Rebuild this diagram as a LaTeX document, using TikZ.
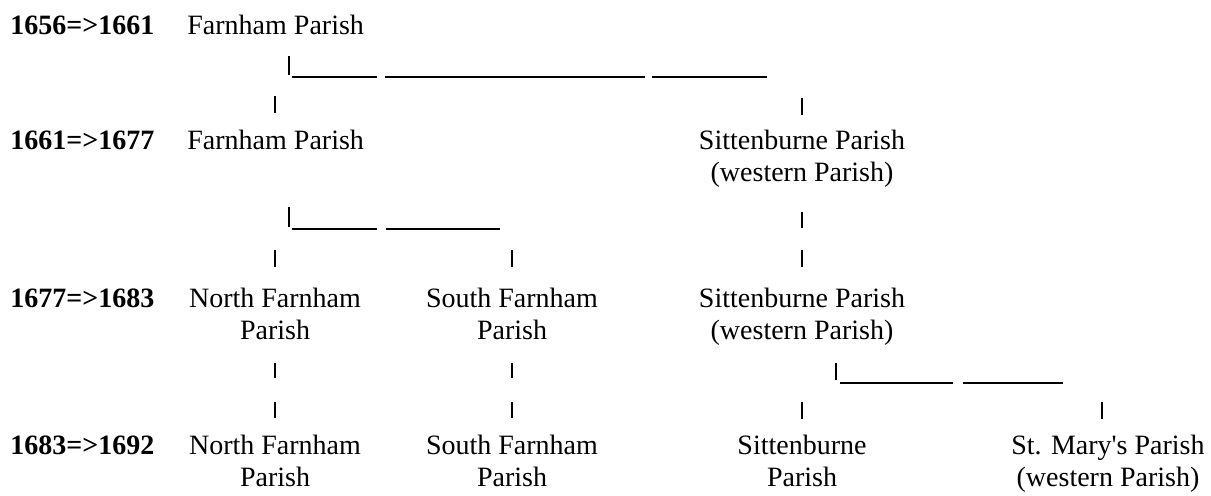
\documentclass[tikz,border=0pt]{standalone}
\usepackage{fontspec}
\setmainfont{Liberation Serif}
\tikzset{
  period/.style={anchor=base west,inner sep=0pt,font=\fontsize{14}{16}\selectfont\bfseries},
  place/.style={anchor=base west,inner sep=0pt},
  parish/.style={anchor=base,inner sep=0pt,align=center,yshift=-16pt},
  pipe/.style={line width=1.1pt},
}
\begin{document}
\begin{tikzpicture}[x=0.5pt,y=-0.5pt,font=\fontsize{14}{16}\selectfont]
        \useasboundingbox (0,0) rectangle (1211,496);
        \def\rA{35}
        \def\rB{150}
        \def\rC{308}
        \def\rD{455}
        \def\cN{275}
        \def\cS{512}
        \def\cW{802}
        \def\cM{1108}

        \node[period] (pA) at (10,\rA) {1656=>1661};
        \node[period] (pB) at (10,\rB) {1661=>1677};
        \node[period] (pC) at (10,\rC) {1677=>1683};
        \node[period] (pD) at (10,\rD) {1683=>1692};

        \node[place] (farnA) at (187,\rA) {Farnham Parish};
        \node[place] (farnB) at (187,\rB) {Farnham Parish};
        \node[parish] (sittB) at (\cW,\rB) {Sittenburne Parish\\(western Parish)};

        \node[parish] (northC) at (\cN,\rC) {North Farnham\\Parish};
        \node[parish] (southC) at (\cS,\rC) {South Farnham\\Parish};
        \node[parish] (sittC) at (\cW,\rC) {Sittenburne Parish\\(western Parish)};

        \node[parish] (northD) at (\cN,\rD) {North Farnham\\Parish};
        \node[parish] (southD) at (\cS,\rD) {South Farnham\\Parish};
        \node[parish] (sittD) at (\cW,\rD) {Sittenburne\\Parish};
        \node[parish] (maryD) at (\cM,\rD) {St. Mary\textquotesingle s Parish\\(western Parish)};

        % 1656 split
        \draw[pipe] (289,56) -- (289,75);
        \draw[pipe] (292,77) -- (377,77);
        \draw[pipe] (385,77) -- (645,77);
        \draw[pipe] (652,77) -- (767,77);
        \draw[pipe] (\cN,96) -- (\cN,113);
        \draw[pipe] (\cW,98) -- (\cW,115);

        % 1661 split
        \draw[pipe] (289,207) -- (289,227);
        \draw[pipe] (292,229) -- (377,229);
        \draw[pipe] (386,229) -- (500,229);
        \draw[pipe] (\cN,250) -- (\cN,267);
        \draw[pipe] (\cS,250) -- (\cS,267);
        \draw[pipe] (\cW,212) -- (\cW,228);
        \draw[pipe] (\cW,250) -- (\cW,267);

        % 1677 split
        \draw[pipe] (\cN,363) -- (\cN,378);
        \draw[pipe] (\cS,363) -- (\cS,378);
        \draw[pipe] (836,363) -- (836,380);
        \draw[pipe] (840,383) -- (953,383);
        \draw[pipe] (963,383) -- (1063,383);
        \draw[pipe] (\cN,402) -- (\cN,418);
        \draw[pipe] (\cS,402) -- (\cS,418);
        \draw[pipe] (\cW,402) -- (\cW,419);
        \draw[pipe] (1102,402) -- (1102,419);
\end{tikzpicture}
\end{document}
